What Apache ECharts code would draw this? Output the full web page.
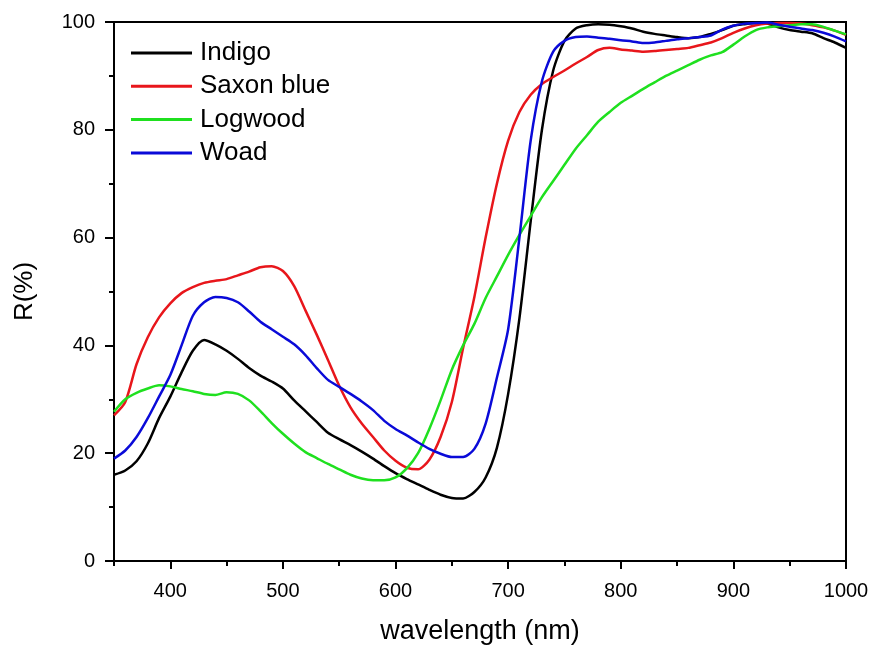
<!DOCTYPE html>
<html>
<head>
<meta charset="utf-8">
<script src="https://cdn.jsdelivr.net/npm/echarts@6/dist/echarts.min.js"></script>
<style>html,body{margin:0;padding:0;background:#fff}#c{width:875px;height:650px}</style>
</head>
<body>
<div id="c"></div>
<script>
const wavelength = [350,360,370,380,390,400,410,420,430,440,450,460,470,480,490,500,510,520,530,540,550,560,570,580,590,600,610,620,630,640,650,660,670,680,690,700,710,720,730,740,750,760,770,780,790,800,810,820,830,840,850,860,870,880,890,900,910,920,930,940,950,960,970,980,990,1000];
const indigo = [16.0,16.8,18.5,21.8,26.5,30.5,35.0,39.0,41.0,40.2,39.0,37.5,35.8,34.4,33.3,32.0,29.8,27.8,25.8,23.8,22.6,21.5,20.3,19.0,17.6,16.3,15.2,14.2,13.2,12.3,11.7,11.6,12.8,15.5,21.0,31.0,45.0,63.0,80.0,91.0,96.5,98.8,99.4,99.6,99.5,99.2,98.8,98.2,97.8,97.5,97.2,97.0,97.2,97.8,98.5,99.3,99.6,99.8,99.7,99.0,98.5,98.2,97.9,97.0,96.2,95.2];
const saxonBlue = [27.0,29.5,36.5,41.5,45.2,47.8,49.7,50.8,51.6,52.0,52.3,53.0,53.7,54.5,54.7,53.8,51.0,46.5,42.0,37.3,32.5,28.5,25.5,23.0,20.5,18.6,17.3,17.0,18.8,23.0,29.5,39.5,49.0,60.0,70.0,78.0,83.3,86.5,88.5,89.8,91.0,92.3,93.5,94.8,95.2,94.9,94.7,94.5,94.6,94.8,95.0,95.2,95.7,96.2,97.0,98.0,98.8,99.4,99.7,99.8,99.8,99.7,99.4,99.0,98.4,97.6];
const logwood = [27.7,30.0,31.2,32.0,32.6,32.4,31.9,31.5,31.0,30.8,31.3,31.0,29.8,27.8,25.6,23.6,21.8,20.2,19.1,18.0,17.0,16.0,15.3,15.0,15.0,15.5,17.2,20.0,24.5,29.8,35.5,40.0,44.0,48.8,52.8,56.8,60.5,64.0,67.5,70.5,73.5,76.5,79.0,81.5,83.3,85.0,86.3,87.6,88.8,90.0,91.0,92.0,93.0,93.8,94.4,95.8,97.3,98.5,99.0,99.2,99.4,99.6,99.6,99.1,98.4,97.7];
const woad = [19.0,20.5,23.0,26.5,30.5,34.5,40.0,45.5,48.0,49.0,48.8,48.0,46.3,44.4,43.0,41.6,40.2,38.2,35.8,33.6,32.3,31.0,29.6,28.0,26.0,24.5,23.3,22.0,20.8,19.9,19.3,19.3,20.8,25.5,34.0,43.0,60.0,78.0,89.0,94.5,96.5,97.2,97.3,97.1,96.9,96.6,96.4,96.1,96.2,96.5,96.8,97.0,97.2,97.5,98.6,99.3,99.7,99.8,99.9,99.5,99.1,98.8,98.5,98.0,97.3,96.4];
const xMajorTicks = [400,500,600,700,800,900,1000];
const xMinorTicks = [350,450,550,650,750,850,950];
const seriesNames = ['Indigo','Saxon blue','Logwood','Woad'];
const seriesColors = ['#000000','#e8161b','#1fe01f','#0a0ad8'];
const seriesData = [indigo, saxonBlue, logwood, woad];

const font = 'Liberation Sans, Arial, sans-serif';
const chart = echarts.init(document.getElementById('c'), null, {renderer:'canvas'});
chart.setOption({
  animation: false,
  backgroundColor: '#fff',
  grid: {left: 114, right: 29, top: 22, bottom: 87, show: true, borderColor: '#000', borderWidth: 2, backgroundColor: 'transparent'},
  legend: {
    orient: 'vertical', left: 131, top: 40, padding: 0, itemWidth: 61, itemHeight: 3, itemGap: 7.3,
    icon: 'rect',
    textStyle: {fontFamily: font, fontSize: 26, color: '#000', padding: [0,0,0,3]},
    data: seriesNames
  },
  xAxis: [{
    type: 'value', min: 350, max: 1000,
    axisLine: {show: true, onZero: false, lineStyle: {color: '#000', width: 2}},
    axisTick: {show: true, customValues: xMajorTicks, length: 8, lineStyle: {color: '#000', width: 2}},
    axisLabel: {customValues: xMajorTicks, fontFamily: font, fontSize: 20, color: '#000', margin: 20,
      formatter: v => String(v)},
    splitLine: {show: false},
    name: 'wavelength (nm)', nameLocation: 'middle', nameGap: 57,
    nameTextStyle: {fontFamily: font, fontSize: 27, color: '#000'}
  }, {
    type: 'value', min: 350, max: 1000, position: 'bottom',
    axisLine: {show: false},
    axisTick: {show: true, customValues: xMinorTicks, length: 5, lineStyle: {color: '#000', width: 2}},
    axisLabel: {show: false},
    splitLine: {show: false}
  }],
  yAxis: {
    type: 'value', min: 0, max: 100, interval: 20,
    axisLine: {show: true, onZero: false, lineStyle: {color: '#000', width: 2}},
    axisTick: {show: true, length: 9, lineStyle: {color: '#000', width: 2}},
    minorTick: {show: true, splitNumber: 2, length: 5, lineStyle: {color: '#000', width: 2}},
    axisLabel: {fontFamily: font, fontSize: 20, color: '#000', margin: 19},
    splitLine: {show: false},
    name: 'R(%)', nameLocation: 'middle', nameGap: 76, nameRotate: 90,
    nameTextStyle: {fontFamily: font, fontSize: 26, color: '#000'}
  },
  series: seriesNames.map((n, i) => ({
    name: n, type: 'line', xAxisIndex: 0, symbol: 'none', smooth: 0.25,
    color: seriesColors[i],
    itemStyle: {color: seriesColors[i]},
    lineStyle: {color: seriesColors[i], width: 2.5},
    data: wavelength.map((w, j) => [w, seriesData[i][j]])
  }))
});
</script>
</body>
</html>
